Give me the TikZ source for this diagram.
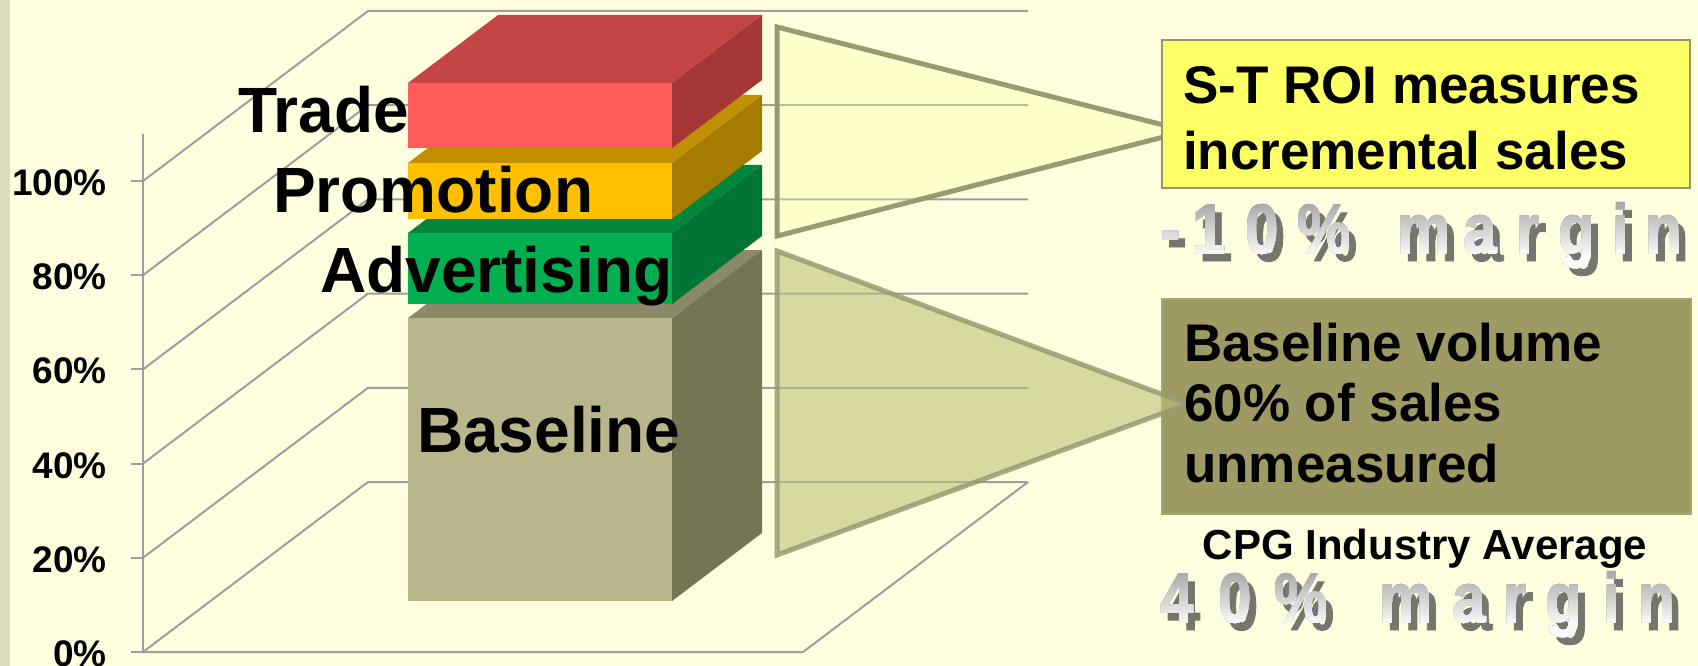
\documentclass[tikz,border=0pt]{standalone}
\usepackage{fontspec}
\setmainfont{Liberation Sans}
\newfontfamily\wordart{Liberation Sans}[FakeStretch=0.85,FakeBold=1.2]
\definecolor{bgc}{RGB}{255,255,224}
\definecolor{stripc}{RGB}{220,220,190}
\definecolor{gridc}{RGB}{158,158,160}
\definecolor{redF}{RGB}{255,91,91}
\definecolor{redT}{RGB}{194,68,68}
\definecolor{redS}{RGB}{164,54,54}
\definecolor{yelF}{RGB}{255,192,0}
\definecolor{yelT}{RGB}{192,144,0}
\definecolor{yelS}{RGB}{166,124,0}
\definecolor{grnF}{RGB}{0,176,80}
\definecolor{grnT}{RGB}{0,134,60}
\definecolor{grnS}{RGB}{0,116,52}
\definecolor{basF}{RGB}{184,182,138}
\definecolor{basT}{RGB}{138,138,106}
\definecolor{basS}{RGB}{117,117,84}
\definecolor{calloutc}{RGB}{154,154,114}
\definecolor{notebox}{RGB}{255,255,102}
\definecolor{olivebox}{RGB}{157,155,99}
\definecolor{shadowc}{RGB}{118,118,110}
\definecolor{wtop}{RGB}{160,160,160}
\definecolor{wbot}{RGB}{250,250,250}
\newcommand\blockbox[5]{%
  \fill[#4] (408,#1) -- (498,#1-68) -- (762,#1-68) -- (672,#1) -- cycle;
  \fill[#5] (672,#1) -- (762,#1-68) -- (762,#2-68) -- (672,#2) -- cycle;
  \fill[#3] (408,#1) rectangle (672,#2);}
% word-art row: #1 name prefix, #2 baseline y, #3 list of x/char
\newcommand\wordartrow[3]{%
  \foreach \x/\c [count=\n] in {#3}{
    \node[wa,text=shadowc] (#1s\n) at (\x+7,#2+8) {\c};}
  \foreach \i in {0,...,19}{
    \pgfmathtruncatemacro\p{min(100,\i*100/19)}
    \begin{scope}
      \clip (1100,#2-57+3*\i) rectangle (1698,#2+30);
      \foreach \x/\c [count=\n] in {#3}{
        \node[wa,text=wbot!\p!wtop] (#1g\i-\n) at (\x,#2) {\c};}
    \end{scope}}}
\begin{document}
\begin{tikzpicture}[x=1pt,y=-1pt,
  grid/.style={draw=gridc,line width=2pt},
  axislabel/.style={anchor=base east,inner sep=0pt,font=\bfseries\fontsize{37}{37}\selectfont},
  barlabel/.style={anchor=base west,inner sep=0pt,font=\bfseries\fontsize{64}{64}\selectfont},
  boxtext/.style={anchor=base west,inner sep=0pt,font=\bfseries\fontsize{53}{53}\selectfont},
  wa/.style={anchor=base west,inner sep=0pt,font=\wordart\bfseries\fontsize{70}{70}\selectfont},
  callout/.style={draw=calloutc,line width=5pt,line join=miter}]
\useasboundingbox (0,0) rectangle (1698,666);
\clip (0,0) rectangle (1698,666);
\fill[bgc] (0,0) rectangle (1698,666);
\fill[stripc] (0,0) rectangle (10,666);
% grid and axis
\foreach \k in {0,...,5}{
  \pgfmathsetmacro\yy{652-94.2*\k}
  \draw[grid] (131,\yy) -- (143,\yy);
  \draw[grid] (143,\yy) -- (368,\yy-170) -- (1028,\yy-170);
}
\draw[grid] (143,652) -- (803,652) -- (1028,482);
\draw[grid] (143,134) -- (143,652);
% axis labels
\node[axislabel] (l0) at (107,666) {0\%};
\node[axislabel] (l20) at (107,572) {20\%};
\node[axislabel] (l40) at (107,478) {40\%};
\node[axislabel] (l60) at (107,383) {60\%};
\node[axislabel] (l80) at (107,289) {80\%};
\node[axislabel] (l100) at (107,195) {100\%};
% stacked blocks
\blockbox{318}{601}{basF}{basT}{basS}
\blockbox{233}{304}{grnF}{grnT}{grnS}
\blockbox{163}{219}{yelF}{yelT}{yelS}
\blockbox{83}{148}{redF}{redT}{redS}
% bar labels
\node[barlabel] (trade) at (238,133) {Trade};
\node[barlabel] (promo) at (273,212) {Promotion};
\node[barlabel] (adv) at (320,292) {Advertising};
\node[barlabel] (base) at (417,452) {Baseline};
% upper callout
\draw[callout,fill={rgb,255:red,255;green,255;blue,160},fill opacity=0.3]
  (777,27) -- (1187,131) -- (777,236) -- cycle;
\node[draw={rgb,255:red,150;green,150;blue,110},line width=2pt,fill=notebox,
  minimum width=528pt,minimum height=148pt,inner sep=0pt,anchor=north west] (roibox) at (1161,39) {};
\node[boxtext] (st1) at (1183,104) {S-T ROI measures};
\node[boxtext] (st2) at (1183,170) {incremental sales};
% lower callout
\node[fill=olivebox,draw={rgb,255:red,165;green,164;blue,120},line width=1.5pt,
  minimum width=529pt,minimum height=215pt,inner sep=0pt,anchor=north west] (basebox) at (1161,298) {};
\draw[callout,draw opacity=0.85,fill={rgb,255:red,190;green,192;blue,120},fill opacity=0.6]
  (777,251) -- (1188,404) -- (777,555) -- cycle;
\node[boxtext] (bv1) at (1184,361) {Baseline volume};
\node[boxtext] (bv2) at (1184,421) {60\% of sales};
\node[boxtext] (bv3) at (1184,482) {unmeasured};
\node[anchor=base,inner sep=0pt,font=\bfseries\fontsize{42}{42}\selectfont] (cpg) at (1425,559) {CPG Industry Average};
% word-art margins
\wordartrow{mA}{253}{1160/-,1192/1,1245/0,1297/\%,1397/m,1463/a,1516/r,1558/g,1612/i,1645/n}
\wordartrow{mB}{622}{1160/4,1218/0,1274/\%,1379/m,1452/a,1503/r,1545/g,1603/i,1638/n}
\end{tikzpicture}
\end{document}
